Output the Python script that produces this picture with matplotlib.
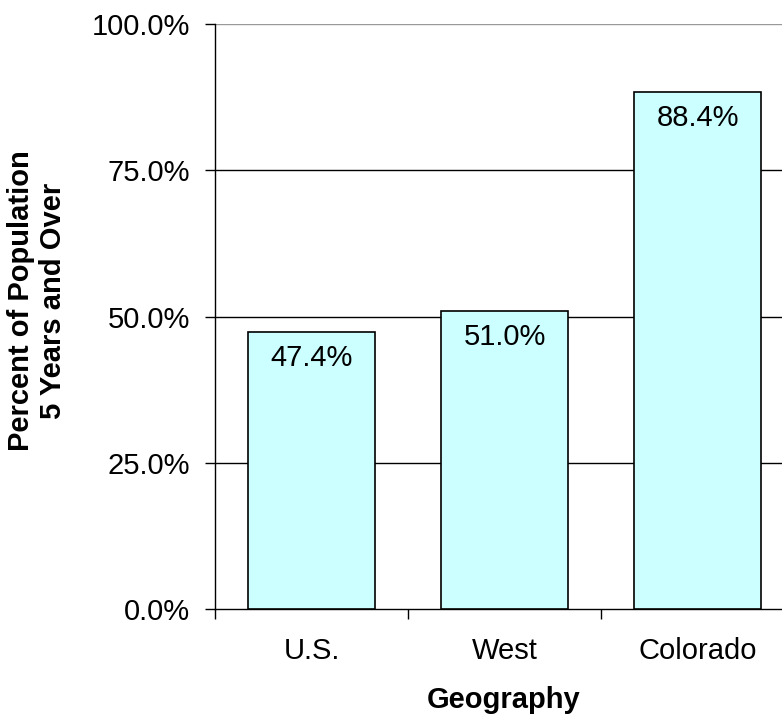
import matplotlib
matplotlib.use("Agg")
import matplotlib.pyplot as plt
from matplotlib.ticker import FuncFormatter, FixedLocator

categories = ["U.S.", "West", "Colorado"]
values = [47.4, 51.0, 88.4]
labels = ["47.4%", "51.0%", "88.4%"]
yticks = [0, 25, 50, 75, 100]

plt.rcParams['font.family'] = ['Liberation Sans', 'DejaVu Sans']
FS = 21

fig = plt.figure(figsize=(7.82, 7.15), dpi=100)
ax = fig.add_axes([215/782, 1-609/715, 579/782, (609-24)/715])

x = range(len(categories))
ax.bar(x, values, width=0.663, color="#CCFFFF", edgecolor="black", linewidth=1.2, zorder=3)
for xi, v, lab in zip(x, values, labels):
    ax.annotate(lab, (xi, v), xytext=(0, -19), textcoords="offset points",
                ha="center", va="center", fontsize=FS, zorder=4)

ax.set_xlim(-0.5, 2.5)
ax.set_ylim(0, 100)
ax.set_yticks(yticks)
ax.yaxis.set_major_formatter(FuncFormatter(lambda v, p: f"{v:.1f}%"))
for yt in yticks[1:]:
    ax.axhline(yt, color="#999999" if yt == 100 else "black", linewidth=1.0, zorder=0)

ax.set_xticks(list(x))
ax.set_xticklabels(categories)
ax.xaxis.set_minor_locator(FixedLocator([-0.5, 0.5, 1.5, 2.5]))
ax.tick_params(axis="x", which="major", length=0, pad=20, labelsize=FS)
ax.tick_params(axis="x", which="minor", length=7, direction="out", width=1)
ax.tick_params(axis="y", length=7, direction="out", width=1, labelsize=FS, pad=11)

for s in ["top", "right"]:
    ax.spines[s].set_visible(False)
ax.spines["left"].set_linewidth(1.0)
ax.spines["bottom"].set_linewidth(1.0)

fig.text(504/782, 1-708/715, "Geography", fontsize=FS, fontweight="bold",
         ha="center", va="baseline")
fig.text(37/782, 1-301/715, "Percent of Population\n5 Years and Over", fontsize=FS,
         fontweight="bold", ha="center", va="center", rotation=90, multialignment="center")

fig.savefig("out.png", dpi=100)
